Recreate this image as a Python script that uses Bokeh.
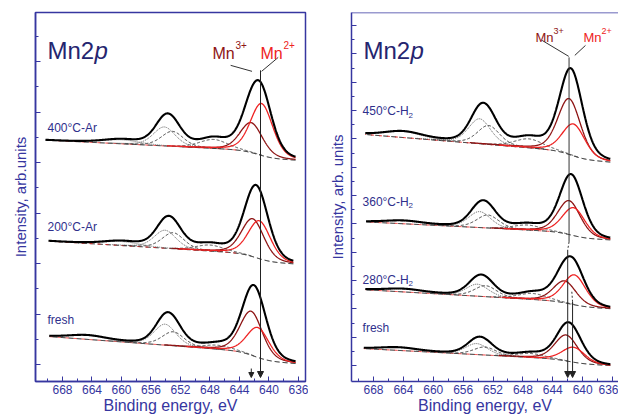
import numpy as np
from bokeh.plotting import figure
from bokeh.layouts import row
from bokeh.models import Range1d, FixedTicker, Arrow, NormalHead, Span
from bokeh.core.properties import value
from bokeh.embed import file_html
from bokeh.resources import INLINE

FONT = "Liberation Sans"
NAVY = "#3636a0"
TITLE_NAVY = "#25256f"
LABEL_NAVY = "#2f2f8c"
MN3_COLOR = "#8e1414"
MN2_COLOR = "#ee2222"

# ---------------- axes ----------------
X_TICKS = [668, 664, 660, 656, 652, 648, 644, 640, 636]
X_MINOR = [670, 666, 662, 658, 654, 650, 646, 642, 638]
L_Y_MAJOR = [17, 67.6, 118.2, 168.8, 219.4, 270, 320.6]
L_Y_MINOR = [42.3, 92.9, 143.5, 194.1, 244.7, 295.3, 345.9]
R_Y_MAJOR = [16 + 28.4 * k for k in range(13)]
R_Y_MINOR = [30.2 + 28.4 * k for k in range(12)]

# ---------------- left panel (Ar) : fresh, 200, 400 ----------------
L_LABELS = ["fresh", "200°C-Ar", "400°C-Ar"]
L_LABEL_Y = [62, 155, 254]
L_E_START = [669.8, 669.9, 670.3]
L_E_END = [636.4, 636.7, 636.4]
L_BG_RIGHT = [18, 118, 222]
L_BG_SLOPE = [0.54, 0.446, 0.355]
L_BG_STEP = [9, 8, 8]
L_MN3_E = [642.4, 642.2, 642.4]
L_MN3_H = [44, 38, 30]
L_MN2_E = [641.5, 641.3, 641.0]
L_MN2_H = [30, 38, 52]
L_P12A_E = [654.1, 654.1, 654.2]
L_P12A_H = [21, 18, 19]
L_P12B_E = [653.0, 653.0, 653.1]
L_P12B_H = [14, 16, 15]
L_SAT1_E = [647.0, 648.0, 647.5]
L_SAT1_H = [4, 6, 9]
L_SAT2_E = [664.6, 660.0, 660.0]
L_SAT2_H = [4, 4, 4]

# ---------------- right panel (H2) : fresh, 280, 360, 450 ----------------
R_LABELS = ["fresh", "280°C-H", "360°C-H", "450°C-H"]
R_LABEL_SUB = ["", "2", "2", "2"]
R_LABEL_Y = [54, 102, 180, 271]
R_E_START = [669.3, 669.1, 669.0, 669.1]
R_E_END = [636.3, 636.3, 636.3, 636.3]
R_BG_RIGHT = [16, 73, 142, 220]
R_BG_SLOPE = [0.394, 0.427, 0.367, 0.6]
R_BG_STEP = [4, 5, 6, 8]
R_MN3_E = [642.2, 642.4, 641.8, 641.8]
R_MN3_H = [26, 22, 34, 56]
R_MN2_E = [641.2, 641.1, 641.2, 641.2]
R_MN2_H = [15, 30, 28, 32]
R_P12A_E = [654.2, 654.1, 653.8, 653.8]
R_P12A_H = [11, 12, 16, 25]
R_P12B_E = [653.1, 653.0, 652.7, 652.6]
R_P12B_H = [8, 11, 13, 19]
R_SAT1_E = [647.0, 646.7, 647.4, 647.2]
R_SAT1_H = [4, 6, 5, 9]
R_SAT2_E = [664.6, 664.0, 664.0, 664.0]
R_SAT2_H = [3, 3, 3, 6]

# component widths (FWHM, eV)
W_MAIN = 3.6
W_P12 = 3.5
W_SAT1 = 4.5
W_SAT2 = 6.0

# reference markers
L_REF_LINE = [641.15, 312, 4]          # E, y_top, y_bottom
L_SMALL_ARROW = [642.4, 13, 4]
L_CONN3 = [645.2, 317, 642.3, 311]
L_CONN2 = [638.75, 325, 641.0, 311]
R_REF_LINE = [641.82, 325, 140]
R_ARROW_A = [642.0, 132, 4]
R_ARROW_B = [641.35, 80, 4]
R_CONN3 = [645.42, 342, 641.86, 326]
R_CONN2 = [639.62, 337, 641.05, 327]


def pv(E, c, h, w, eta=0.3):
    x = (E - c) / w
    return h * ((1 - eta) * np.exp(-4 * np.log(2) * x ** 2) + eta / (1 + 4 * x ** 2))


def masked(base, comp, thr=0.3):
    return np.where(comp > thr, base + comp, np.nan)


def draw_spectrum(p, e0, e1, bgr, slope, step, c3, h3, c2, h2, ca, ha, cb, hb, cs1, hs1, cs2, hs2):
    E = np.arange(e1, e0 + 1e-6, 0.05)
    mn3 = pv(E, c3, h3, W_MAIN)
    mn2 = pv(E, c2, h2, W_MAIN)
    main = mn3 + mn2
    F = np.cumsum(main)
    F = F / F[-1]
    bg = bgr + slope * (E - E[0]) + step * F
    a = pv(E, ca, ha, W_P12)
    b = pv(E, cb, hb, W_P12)
    s1 = pv(E, cs1, hs1, W_SAT1)
    s2 = pv(E, cs2, hs2, W_SAT2)
    total = bg + main + a + b + s1 + s2
    # background
    p.line(E, bg, line_color="black", line_width=1, line_dash="5 3")
    left = np.where(E > 644, bg, np.nan)
    p.line(E, left, line_color=MN2_COLOR, line_width=1, line_dash="3 5", line_dash_offset=5)
    # grey components
    p.line(E, masked(bg, a), line_color="#555555", line_width=1, line_dash="1 1")
    p.line(E, masked(bg, b), line_color="#333333", line_width=1, line_dash="3 2")
    p.line(E, masked(bg, s1), line_color="#444444", line_width=1, line_dash="3 2")
    p.line(E, masked(bg, s2), line_color="#666666", line_width=1, line_dash="1 1")
    # Mn components
    p.line(E, masked(bg, mn3), line_color=MN3_COLOR, line_width=1.3)
    p.line(E, masked(bg, mn2), line_color=MN2_COLOR, line_width=1.3)
    # envelope
    p.line(E, total, line_color="black", line_width=2.1)


def base_fig(width, xr, bl, br, yl_text, yl_standoff, yticks, yminor):
    p = figure(width=width, height=416, output_backend="svg", toolbar_location=None,
               x_range=Range1d(*xr), y_range=Range1d(0, 370),
               min_border_left=bl, min_border_right=br, min_border_top=12, min_border_bottom=34)
    p.xgrid.visible = False
    p.ygrid.visible = False
    p.background_fill_color = "white"
    p.border_fill_color = "white"
    xa = p.xaxis[0]
    xa.ticker = FixedTicker(ticks=X_TICKS, minor_ticks=X_MINOR)
    xa.major_tick_in = 5
    xa.major_tick_out = 0
    xa.minor_tick_in = 3
    xa.minor_tick_out = 0
    xa.axis_line_color = NAVY
    xa.axis_line_width = 1.5
    xa.major_tick_line_color = NAVY
    xa.minor_tick_line_color = NAVY
    xa.major_label_text_font = FONT
    xa.major_label_text_font_size = "12px"
    xa.major_label_text_color = NAVY
    xa.major_label_standoff = 3
    xa.axis_label = "Binding energy, eV"
    xa.axis_label_text_font = FONT
    xa.axis_label_text_font_size = "16px"
    xa.axis_label_text_font_style = "normal"
    xa.axis_label_text_color = NAVY
    xa.axis_label_standoff = 0
    ya = p.yaxis[0]
    ya.ticker = FixedTicker(ticks=yticks, minor_ticks=yminor)
    ya.axis_line_color = NAVY
    ya.axis_line_width = 1.5
    ya.major_tick_in = 5
    ya.major_tick_out = 0
    ya.minor_tick_in = 3
    ya.minor_tick_out = 0
    ya.major_tick_line_color = NAVY
    ya.minor_tick_line_color = NAVY
    ya.major_label_overrides = {t: "" for t in yticks}
    ya.major_label_standoff = 0
    ya.axis_label = yl_text
    ya.axis_label_text_font = FONT
    ya.axis_label_text_font_size = "15px"
    ya.axis_label_text_font_style = "normal"
    ya.axis_label_text_color = NAVY
    ya.axis_label_standoff = yl_standoff
    return p


def txt(p, x, y, s, size, color, xo=0, yo=0, style="normal", baseline="alphabetic"):
    p.text(x=[x], y=[y], text=[s], text_font=value(FONT), text_font_size=size,
           text_color=color, x_offset=xo, y_offset=yo, text_font_style=style,
           text_align="left", text_baseline=baseline)


def mn_label(p, x, y, sup, size, sup_size, color, xo_sup, yo_sup):
    txt(p, x, y, "Mn", size, color)
    txt(p, x, y, sup, sup_size, color, xo=xo_sup, yo=yo_sup)


def mn2p(p, x, y):
    txt(p, x, y, "Mn2", "24px", TITLE_NAVY)
    txt(p, x, y, "p", "24px", TITLE_NAVY, xo=47, style="italic")


# ---------------- left figure ----------------
p1 = base_fig(308, (671.66, 635.05), 35, 3, "Intensity, arb.units", 7, L_Y_MAJOR, L_Y_MINOR)
p1.outline_line_color = NAVY
p1.outline_line_width = 1.5
p1.outline_line_alpha = 1

for i in range(len(L_LABELS)):
    draw_spectrum(p1, L_E_START[i], L_E_END[i], L_BG_RIGHT[i], L_BG_SLOPE[i], L_BG_STEP[i],
                  L_MN3_E[i], L_MN3_H[i], L_MN2_E[i], L_MN2_H[i],
                  L_P12A_E[i], L_P12A_H[i], L_P12B_E[i], L_P12B_H[i],
                  L_SAT1_E[i], L_SAT1_H[i], L_SAT2_E[i], L_SAT2_H[i])
    txt(p1, 670.03, L_LABEL_Y[i], L_LABELS[i], "12px", LABEL_NAVY, baseline="middle")

p1.segment(x0=[L_CONN3[0], L_CONN2[0]], y0=[L_CONN3[1], L_CONN2[1]],
           x1=[L_CONN3[2], L_CONN2[2]], y1=[L_CONN3[3], L_CONN2[3]], line_color="#333333", line_width=1)
p1.add_layout(Arrow(end=NormalHead(size=6, fill_color="#222222", line_color="#222222"),
                    x_start=L_REF_LINE[0], y_start=L_REF_LINE[1], x_end=L_REF_LINE[0], y_end=L_REF_LINE[2],
                    line_color="#222222", line_width=1))
p1.add_layout(Arrow(end=NormalHead(size=5, fill_color="#222222", line_color="#222222"),
                    x_start=L_SMALL_ARROW[0], y_start=L_SMALL_ARROW[1], x_end=L_SMALL_ARROW[0], y_end=L_SMALL_ARROW[2],
                    line_color="#222222", line_width=1))
mn_label(p1, 647.66, 329, "3+", "16px", "10px", MN3_COLOR, 23, -8)
mn_label(p1, 641.15, 329, "2+", "16px", "10px", MN2_COLOR, 23, -8)
mn2p(p1, 670.03, 332)

# ---------------- right figure ----------------
p2 = base_fig(310, (670.95, 635.2), 43, 0, "Intensity, arb. units", 6, R_Y_MAJOR, R_Y_MINOR)
p2.outline_line_color = None
p2.add_layout(Span(location=370, dimension="width", line_color=NAVY, line_width=1.5))

for i in range(len(R_LABELS)):
    draw_spectrum(p2, R_E_START[i], R_E_END[i], R_BG_RIGHT[i], R_BG_SLOPE[i], R_BG_STEP[i],
                  R_MN3_E[i], R_MN3_H[i], R_MN2_E[i], R_MN2_H[i],
                  R_P12A_E[i], R_P12A_H[i], R_P12B_E[i], R_P12B_H[i],
                  R_SAT1_E[i], R_SAT1_H[i], R_SAT2_E[i], R_SAT2_H[i])
    txt(p2, 669.47, R_LABEL_Y[i], R_LABELS[i], "12px", LABEL_NAVY, baseline="middle")
    if R_LABEL_SUB[i]:
        txt(p2, 669.47, R_LABEL_Y[i], R_LABEL_SUB[i], "8px", LABEL_NAVY, xo=46, yo=4, baseline="middle")

p2.segment(x0=[R_CONN3[0], R_CONN2[0], R_REF_LINE[0]], y0=[R_CONN3[1], R_CONN2[1], R_REF_LINE[1]],
           x1=[R_CONN3[2], R_CONN2[2], R_REF_LINE[0]], y1=[R_CONN3[3], R_CONN2[3], R_REF_LINE[2]],
           line_color="#333333", line_width=1)
p2.segment(x0=[R_REF_LINE[0], R_ARROW_B[0] + 0.1], y0=[R_REF_LINE[2], R_ARROW_B[1] + 10],
           x1=[R_ARROW_A[0], R_ARROW_B[0]], y1=[R_ARROW_A[1], R_ARROW_B[1]],
           line_color="#333333", line_width=1, line_dash="2 2")
for ar in (R_ARROW_A, R_ARROW_B):
    p2.add_layout(Arrow(end=NormalHead(size=6, fill_color="#222222", line_color="#222222"),
                        x_start=ar[0], y_start=ar[1], x_end=ar[0], y_end=ar[2],
                        line_color="#222222", line_width=1))
mn_label(p2, 646.31, 345, "3+", "13px", "9px", MN3_COLOR, 18, -6)
mn_label(p2, 639.89, 345, "2+", "13px", "9px", MN2_COLOR, 18, -6)
mn2p(p2, 669.34, 332)

layout = row(p1, p2)
open("out.html", "w").write(file_html(layout, INLINE))
